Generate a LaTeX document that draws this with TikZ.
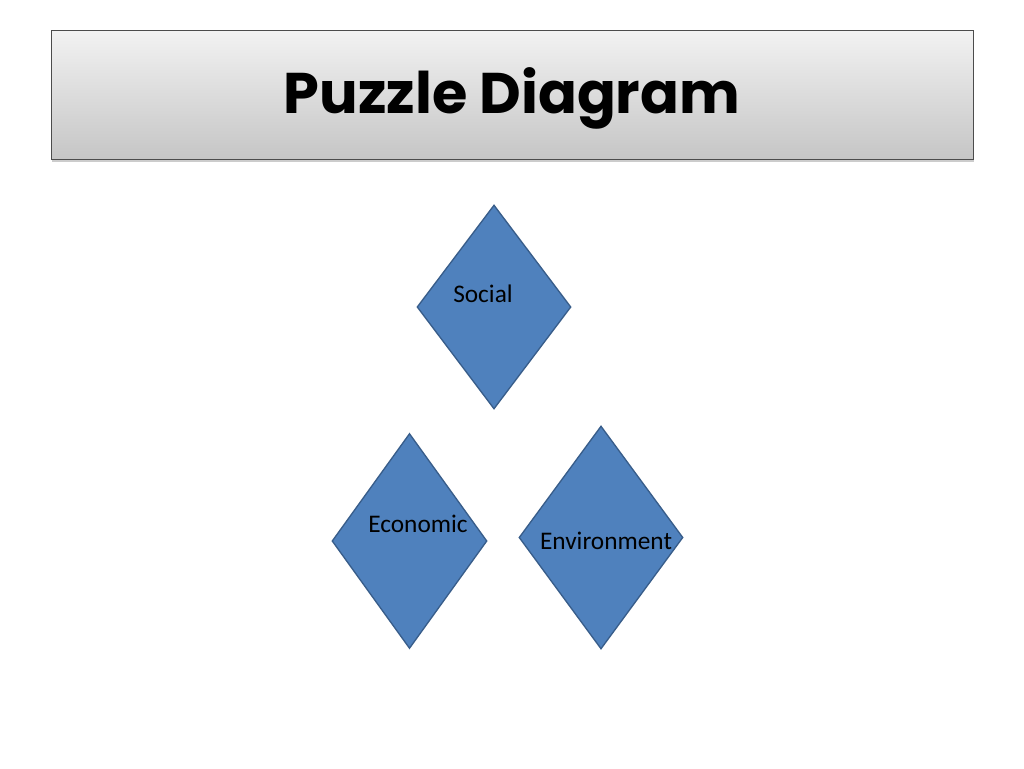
\documentclass[tikz,border=0pt]{standalone}
\usepackage{fontspec}
\setmainfont{Carlito}
\newfontfamily\titlefont{Poppins}
\usetikzlibrary{shapes.geometric,shadows}

\definecolor{piecefill}{HTML}{4F81BD}
\definecolor{pieceline}{HTML}{385D8A}

\begin{document}
\begin{tikzpicture}[x=0.75pt, y=-0.75pt,
                    piece/.style={diamond, draw=pieceline, fill=piecefill, line width=1pt, inner sep=0pt},
                    piece text/.style={font=\fontsize{19}{22}\selectfont, text=black},
                    title box/.style={draw=black!70, line width=0.75pt, top color=gray!10, bottom color=gray!45,
                                      drop shadow={opacity=0.4, shadow xshift=1pt, shadow yshift=-2pt}}]

  \useasboundingbox (0,0) rectangle (1024,768);

  % title
  \node[title box, minimum width=691.5pt, minimum height=96.75pt, inner sep=0pt] (titlebox) at (512,94.5) {};
  \node[font=\titlefont\bfseries\fontsize{43}{50}\selectfont, anchor=base] (title) at (512,113) {Puzzle Diagram};

  % pieces
  \node[piece, minimum width=115.5pt, minimum height=153pt] (social) at (494,307) {};
  \node[piece, minimum width=116.25pt, minimum height=161.25pt] (economic) at (409.5,541) {};
  \node[piece, minimum width=123pt, minimum height=167.25pt] (environment) at (601,537.5) {};

  \node[piece text] (socialtext) at (483,294) {Social};
  \node[piece text] (economictext) at (418,524) {Economic};
  \node[piece text] (environmenttext) at (606,541) {Environment};
\end{tikzpicture}
\end{document}
